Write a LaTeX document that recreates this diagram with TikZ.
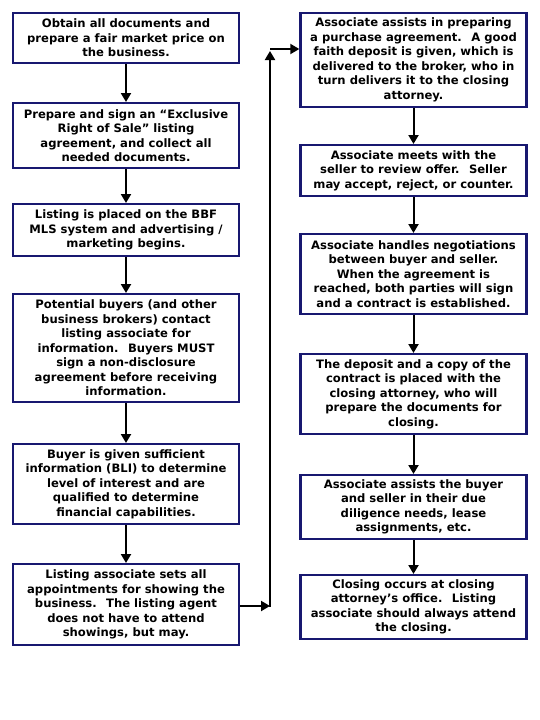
\documentclass[tikz,border=0pt]{standalone}
\usepackage{fontspec}
\setmainfont{DejaVu Sans}
\usetikzlibrary{arrows.meta}
\definecolor{navy}{RGB}{24,24,112}
\begin{document}
\begin{tikzpicture}[x=1pt,y=-1pt,
  box/.style={draw=navy, line width=2.4pt, fill=white, align=center, inner sep=0pt,
    minimum width=226pt, font=\bfseries\fontsize{11.6}{14.5}\selectfont},
  arr/.style={line width=2pt, -{Triangle[width=10pt,length=9pt]}},
  seg/.style={line width=2pt}]
\fill[white] (0,0) rectangle (540,720);
\useasboundingbox (0,0) rectangle (540,720);
% left column
\node[box, minimum height=49.6pt] (b1) at (126,38) {Obtain all documents and\\prepare a fair market price on\\the business.};
\node[box, minimum height=64.6pt] (b2) at (126,135.5) {Prepare and sign an “Exclusive\\Right of Sale” listing\\agreement, and collect all\\needed documents.};
\node[box, minimum height=51.6pt] (b3) at (126,230) {Listing is placed on the BBF\\MLS system and advertising /\\marketing begins.};
\node[box, minimum height=107.6pt] (b4) at (126,348) {Potential buyers (and other\\business brokers) contact\\listing associate for\\information.~ Buyers MUST\\sign a non-disclosure\\agreement before receiving\\information.};
\node[box, minimum height=79.6pt] (b5) at (126,484) {Buyer is given sufficient\\information (BLI) to determine\\level of interest and are\\qualified to determine\\financial capabilities.};
\node[box, minimum height=80.6pt] (b6) at (126,604.5) {Listing associate sets all\\appointments for showing the\\business.~ The listing agent\\does not have to attend\\showings, but may.};
% right column
\node[box, minimum height=93.6pt] (b7) at (413.5,60) {Associate assists in preparing\\a purchase agreement.~ A good\\faith deposit is given, which is\\delivered to the broker, who in\\turn delivers it to the closing\\attorney.};
\node[box, minimum height=50.6pt] (b8) at (413.5,170.5) {Associate meets with the\\seller to review offer.~ Seller\\may accept, reject, or counter.};
\node[box, minimum height=79.6pt] (b9) at (413.5,274) {Associate handles negotiations\\between buyer and seller.\\When the agreement is\\reached, both parties will sign\\and a contract is established.};
\node[box, minimum height=79.6pt] (b10) at (413.5,394) {The deposit and a copy of the\\contract is placed with the\\closing attorney, who will\\prepare the documents for\\closing.};
\node[box, minimum height=63.6pt] (b11) at (413.5,507) {Associate assists the buyer\\and seller in their due\\diligence needs, lease\\assignments, etc.};
\node[box, minimum height=63.6pt] (b12) at (413.5,607) {Closing occurs at closing\\attorney’s office.~ Listing\\associate should always attend\\the closing.};
% connectors
\draw[arr] (b1) -- (b2);
\draw[arr] (b2) -- (b3);
\draw[arr] (b3) -- (b4);
\draw[arr] (b4) -- (b5);
\draw[arr] (b5) -- (b6);
\draw[arr] (b7) -- (b8);
\draw[arr] (b8) -- (b9);
\draw[arr] (b9) -- (b10);
\draw[arr] (b10) -- (b11);
\draw[arr] (b11) -- (b12);
\coordinate (c1) at (270,606);
\coordinate (c2) at (270,49);
\coordinate (c3) at (270,51);
\draw[arr] (b6.east |- c1) -- (c1);
\draw[seg] (270,607) -- (270,60);
\draw[arr] (c1) -- (c3);
\draw[arr] (c2) -- (c2 -| b7.west);
\end{tikzpicture}
\end{document}
